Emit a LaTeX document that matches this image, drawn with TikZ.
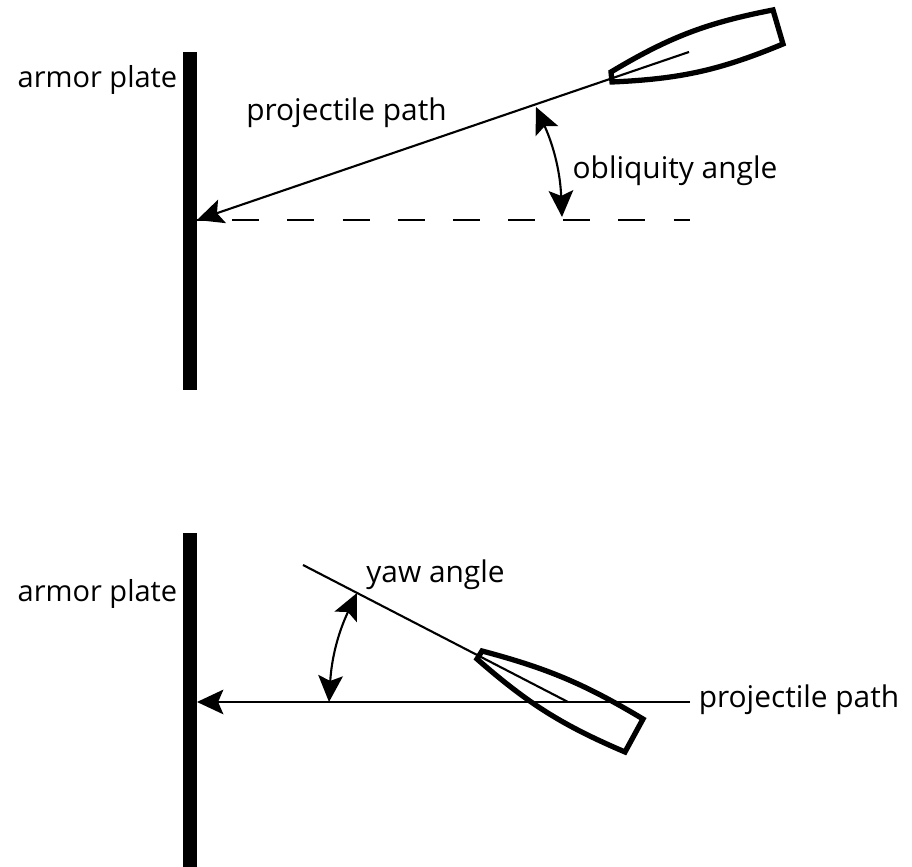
\documentclass[tikz,border=0pt]{standalone}
\usepackage{fontspec}
\setmainfont{Open Sans}
\usetikzlibrary{arrows.meta,positioning}

\tikzset{
  plate/.style={fill=black, draw=none},
  axisline/.style={line width=0.6pt},
  shell/.style={line width=1.5pt, line join=miter},
  pointer/.style={line width=0.6pt, -{Stealth[length=7.5pt, width=7pt, inset=1.5pt]}},
  angleline/.style={line width=0.6pt, {Stealth[length=7.5pt, width=7pt, inset=1.5pt]}-{Stealth[length=7.5pt, width=7pt, inset=1.5pt]}},
  refdash/.style={line width=0.6pt, dash pattern=on 7.7pt off 8pt, dash phase=5.7pt},
  label/.style={font=\fontsize{8.5pt}{10pt}\selectfont, inner sep=0pt},
  platelabel/.style={font=\fontsize{8.25pt}{10pt}\selectfont, inner sep=0pt}
}

\begin{document}
\begin{tikzpicture}
  \useasboundingbox (0,0) rectangle (9.12,8.67);

  % Upper view: oblique impact
  \fill[plate] (1.83,4.77) rectangle (1.97,8.15);
  \coordinate (hitA) at (1.97,6.47);
  \coordinate (noseA) at (6.89,8.15);
  \coordinate (dashEnd) at (6.90,6.47);
  \coordinate (tipAt) at (6.11,7.95);
  \coordinate (tipAb) at (6.12,7.85);
  \coordinate (baseAt) at (7.73,8.57);
  \coordinate (baseAb) at (7.83,8.23);
  \coordinate (obliqA) at (5.36,7.60);
  \coordinate (obliqB) at (5.62,6.50);

  \draw[shell] (tipAt) to[bend left=10] (baseAt) -- (baseAb)
    to[bend left=10] (tipAb) -- cycle;
  \draw[pointer] (noseA) -- (hitA);
  \draw[refdash] (hitA) -- (dashEnd);
  \draw[angleline] (obliqA) to[bend left=11] (obliqB);

  \node[platelabel] (plateA) at (0.975,7.87) {armor plate};
  \node[label] (pathA) at (3.465,7.54) {projectile path};
  \node[label] (obliqLabel) at (6.75,6.96) {obliquity angle};

  % Lower view: yawed impact
  \fill[plate] (1.83,0) rectangle (1.97,3.34);
  \coordinate (hitB) at (1.97,1.65);
  \coordinate (pathEnd) at (6.90,1.65);
  \coordinate (axisEnd) at (3.03,3.02);
  \coordinate (noseB) at (5.68,1.65);
  \coordinate (tipBt) at (4.82,2.16);
  \coordinate (tipBb) at (4.77,2.08);
  \coordinate (baseBt) at (6.43,1.48);
  \coordinate (baseBb) at (6.25,1.15);
  \coordinate (yawA) at (3.57,2.74);
  \coordinate (yawB) at (3.29,1.65);

  \draw[shell] (tipBt) to[bend left=8] (baseBt) -- (baseBb)
    to[bend left=9] (tipBb) -- cycle;
  \draw[axisline] (axisEnd) -- (noseB);
  \draw[pointer] (pathEnd) -- (hitB);
  \draw[angleline] (yawA) to[bend right=11] (yawB);

  \node[platelabel] (plateB) at (0.975,2.73) {armor plate};
  \node[label] (yawLabel) at (4.355,2.92) {yaw angle};
  \node[label] (pathB) at (7.99,1.67) {projectile path};
\end{tikzpicture}
\end{document}
